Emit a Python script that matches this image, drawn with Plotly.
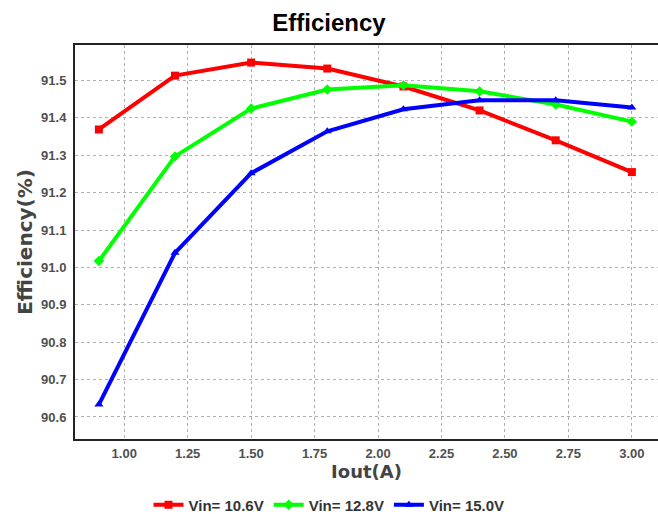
import plotly.graph_objects as go

iout = [0.9, 1.2, 1.5, 1.8, 2.1, 2.4, 2.7, 3.0]
eff_106 = [91.369, 91.513, 91.548, 91.532, 91.484, 91.420, 91.340, 91.255]
eff_128 = [91.017, 91.297, 91.425, 91.476, 91.487, 91.471, 91.436, 91.390]
eff_150 = [90.633, 91.039, 91.252, 91.364, 91.423, 91.447, 91.447, 91.428]
x_ticks = [1.0, 1.25, 1.5, 1.75, 2.0, 2.25, 2.5, 2.75, 3.0]
y_ticks = [90.6, 90.7, 90.8, 90.9, 91.0, 91.1, 91.2, 91.3, 91.4, 91.5]

series = [
    ("Vin= 10.6V", eff_106, "#ff0000", "square"),
    ("Vin= 12.8V", eff_128, "#00ff00", "diamond"),
    ("Vin= 15.0V", eff_150, "#0000ff", "triangle-up"),
]

fig = go.Figure()
for name, ys, col, sym in series:
    fig.add_trace(go.Scatter(
        x=iout, y=ys, name=f"<b>{name}</b>", mode="lines+markers",
        line=dict(color=col, width=4),
        marker=dict(color=col, symbol=sym, size=8),
    ))

font_fam = "Liberation Sans, Arial, sans-serif"
title_fam = "DejaVu Sans, Liberation Sans, sans-serif"
fig.update_layout(
    width=658, height=514,
    margin=dict(l=75, r=0, t=45, b=75, autoexpand=False),
    paper_bgcolor="white", plot_bgcolor="white",
    title=dict(text="<b>Efficiency</b>", x=0.5, xanchor="center", xref="container",
               y=1 - 23 / 514, yanchor="middle", yref="container",
               font=dict(family=font_fam, size=24, color="#000000")),
    font=dict(family=font_fam, color="#444444"),
    showlegend=True,
    legend=dict(orientation="h", x=0.5, xanchor="center", xref="container",
                y=9 / 514, yanchor="middle", yref="container",
                font=dict(family=font_fam, size=15, color="#333333"),
                itemwidth=30, tracegroupgap=0, traceorder="normal"),
)
fig.update_xaxes(
    range=[0.806, 3.103], tickvals=x_ticks, ticktext=[f"<b>{v:.2f}</b>" for v in x_ticks],
    tickfont=dict(size=13, color="#505050"),
    title=dict(text="<b>Iout(A)</b>", font=dict(family=title_fam, size=18, color="#444444"), standoff=0),
    showgrid=True, gridcolor="#b0b0b0", griddash="dot", gridwidth=1,
    showline=True, linecolor="#222222", linewidth=2, mirror=True,
    ticks="outside", ticklen=1, tickcolor="rgba(0,0,0,0)", zeroline=False,
    automargin=True,
)
fig.update_yaxes(
    range=[90.541, 91.595], tickvals=y_ticks, ticktext=[f"<b>{v:.1f}</b>" for v in y_ticks],
    tickfont=dict(size=13, color="#505050"),
    title=dict(text="<b>Efficiency(%)</b>", font=dict(family=title_fam, size=20, color="#444444"), standoff=3),
    showgrid=True, gridcolor="#b0b0b0", griddash="dot", gridwidth=1,
    showline=True, linecolor="#222222", linewidth=2, mirror=False,
    ticks="outside", ticklen=4, tickcolor="rgba(0,0,0,0)", zeroline=False,
    automargin=True,
)

fig.write_html("out.html", config={"displayModeBar": False},
               post_script="document.body.style.margin='0';document.body.style.overflow='hidden';")
